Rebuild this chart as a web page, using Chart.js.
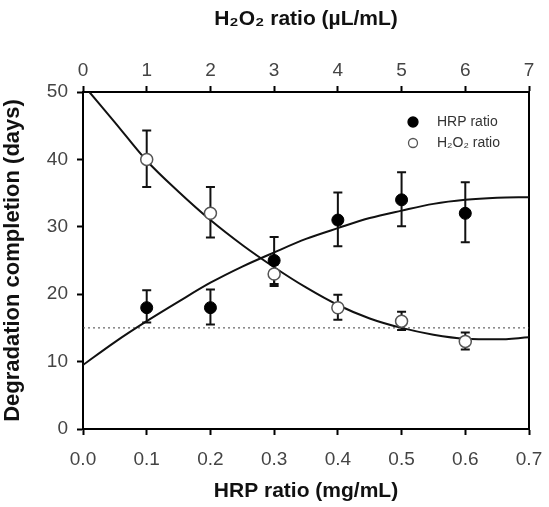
<!DOCTYPE html>
<html>
<head>
<meta charset="utf-8">
<script src="https://cdn.jsdelivr.net/npm/chart.js@4"></script>
<style>
  html, body { margin: 0; padding: 0; background: #fff; }
  #wrap { width: 549px; height: 507px; }
</style>
</head>
<body>
<div id="wrap"><canvas id="chart"></canvas></div>
<script>
// measured points (HRP on bottom axis, H2O2 on top axis)
const hrpX = [0.1, 0.2, 0.3, 0.4, 0.5, 0.6];
const hrpDays = [18, 18, 25, 31, 34, 32];
const hrpHigh = [20.6, 20.7, 28.5, 35.1, 38.1, 36.6];
const hrpLow = [15.8, 15.5, 21.5, 27.1, 30.1, 27.7];

const h2o2X = [1, 2, 3, 4, 5, 6];
const h2o2Days = [40, 32, 23, 18, 16, 13];
const h2o2High = [44.3, 35.9, 24.4, 19.9, 17.4, 14.3];
const h2o2Low = [35.9, 28.4, 21.2, 16.2, 14.7, 11.8];

// fitted curves
const hrpFitX = [0, 0.05, 0.1, 0.15, 0.2, 0.25, 0.3, 0.35, 0.4, 0.45, 0.5, 0.55, 0.6, 0.65, 0.7];
const hrpFitY = [9.5, 12.9, 16.0, 18.9, 21.7, 24.1, 26.2, 28.2, 29.8, 31.3, 32.4, 33.4, 34.0, 34.3, 34.4];
const h2o2FitX = [0.1, 0.5, 1, 1.5, 2, 2.5, 3, 3.5, 4, 4.5, 5, 5.5, 6, 6.5, 7];
const h2o2FitY = [50, 45.5, 39.8, 35.2, 31.0, 27.3, 24.0, 21.0, 18.4, 16.4, 15.0, 14.0, 13.4, 13.3, 13.6];

const refLineX = [0, 0.7];
const refLineY = [15, 15];

const FONT = '"Liberation Sans", Arial, sans-serif';

function pts(xs, ys) {
    return xs.map((x, i) => ({ x: x, y: ys[i] }));
}

// error bars drawn through the chart scales
const errorBars = {
    id: 'errorBars',
    beforeDatasetsDraw(chart) {
        const ctx = chart.ctx;
        const y = chart.scales.y;
        const sets = [
            { sx: chart.scales.x, xs: hrpX, hi: hrpHigh, lo: hrpLow },
            { sx: chart.scales.x2, xs: h2o2X, hi: h2o2High, lo: h2o2Low }
        ];
        ctx.save();
        ctx.strokeStyle = '#111';
        ctx.lineWidth = 2;
        sets.forEach(s => {
            s.xs.forEach((xv, i) => {
                const px = s.sx.getPixelForValue(xv);
                const top = y.getPixelForValue(s.hi[i]);
                const bot = y.getPixelForValue(s.lo[i]);
                ctx.beginPath();
                ctx.moveTo(px, top); ctx.lineTo(px, bot);
                ctx.moveTo(px - 4.5, top); ctx.lineTo(px + 4.5, top);
                ctx.moveTo(px - 4.5, bot); ctx.lineTo(px + 4.5, bot);
                ctx.stroke();
            });
        });
        ctx.restore();
    }
};

// small legend inside the plot, top right
const innerLegend = {
    id: 'innerLegend',
    afterDatasetsDraw(chart) {
        const ctx = chart.ctx;
        const items = [chart.data.datasets[0], chart.data.datasets[1]];
        ctx.save();
        ctx.font = '14px ' + FONT;
        ctx.textBaseline = 'middle';
        items.forEach((ds, i) => {
            const cx = 413, cy = 122 + i * 21;
            ctx.beginPath();
            ctx.arc(cx, cy, i === 0 ? 5 : 4.5, 0, Math.PI * 2);
            ctx.fillStyle = ds.pointBackgroundColor;
            ctx.fill();
            ctx.lineWidth = 1.3;
            ctx.strokeStyle = ds.pointBorderColor;
            ctx.stroke();
            ctx.fillStyle = '#333';
            ctx.fillText(ds.label, 437, cy);
        });
        ctx.restore();
    }
};

const tickFont = { family: FONT, size: 19 };
const titleFont = { family: FONT, size: 21, weight: 'bold' };

// keep the plot box fixed: no extra room for overhanging end labels
function fixX(h) {
    return s => { s.height = h; s.paddingLeft = 0; s.paddingRight = 0; };
}

new Chart(document.getElementById('chart'), {
    type: 'scatter',
    data: {
        datasets: [
            {
                label: 'HRP ratio',
                data: pts(hrpX, hrpDays),
                xAxisID: 'x',
                pointRadius: 6,
                pointBackgroundColor: '#000',
                pointBorderColor: '#000',
                pointBorderWidth: 1,
                showLine: false,
                order: 1
            },
            {
                label: 'H₂O₂ ratio',
                data: pts(h2o2X, h2o2Days),
                xAxisID: 'x2',
                pointRadius: 6,
                pointBackgroundColor: '#fff',
                pointBorderColor: '#555',
                pointBorderWidth: 1.5,
                showLine: false,
                order: 1
            },
            {
                label: 'HRP fit',
                data: pts(hrpFitX, hrpFitY),
                xAxisID: 'x',
                showLine: true,
                pointRadius: 0,
                borderColor: '#111',
                borderWidth: 2,
                cubicInterpolationMode: 'monotone',
                order: 2
            },
            {
                label: 'H2O2 fit',
                data: pts(h2o2FitX, h2o2FitY),
                xAxisID: 'x2',
                showLine: true,
                pointRadius: 0,
                borderColor: '#111',
                borderWidth: 2,
                cubicInterpolationMode: 'monotone',
                order: 2
            },
            {
                label: 'threshold',
                data: pts(refLineX, refLineY),
                xAxisID: 'x',
                showLine: true,
                pointRadius: 0,
                borderColor: '#444',
                borderWidth: 1,
                borderDash: [2, 3],
                order: 3
            }
        ]
    },
    options: {
        responsive: true,
        maintainAspectRatio: false,
        animation: false,
        layout: { padding: 0 },
        plugins: {
            legend: { display: false },
            tooltip: { enabled: false }
        },
        scales: {
            x: {
                type: 'linear',
                position: 'bottom',
                min: 0, max: 0.7,
                afterFit: fixX(78),
                ticks: {
                    stepSize: 0.1,
                    color: '#444',
                    font: tickFont,
                    padding: 13,
                    callback: v => v.toFixed(1)
                },
                grid: { drawOnChartArea: false, drawTicks: true, tickLength: 6, tickColor: '#000', tickWidth: 2 },
                border: { display: true, color: '#000', width: 2 },
                title: { display: true, text: 'HRP ratio (mg/mL)', font: titleFont, color: '#111', padding: { top: 0, bottom: 3 } }
            },
            x2: {
                type: 'linear',
                position: 'top',
                min: 0, max: 7,
                afterFit: fixX(92),
                ticks: { stepSize: 1, color: '#444', font: tickFont, padding: 4 },
                grid: { drawOnChartArea: false, drawTicks: true, tickLength: 6, tickColor: '#000', tickWidth: 2 },
                border: { display: true, color: '#000', width: 2 },
                title: { display: true, text: 'H₂O₂ ratio (µL/mL)', font: titleFont, color: '#111', padding: { top: 7, bottom: 0 } }
            },
            y: {
                type: 'linear',
                position: 'left',
                min: 0, max: 50,
                afterFit: s => { s.width = 83; s.paddingTop = 0; s.paddingBottom = 0; },
                ticks: { stepSize: 10, color: '#444', font: tickFont, padding: 9 },
                grid: { drawOnChartArea: false, drawTicks: true, tickLength: 6, tickColor: '#000', tickWidth: 2 },
                border: { display: true, color: '#000', width: 2 },
                title: { display: true, text: 'Degradation completion (days)', font: { family: FONT, size: 22, weight: 'bold' }, color: '#111', padding: { top: 0, bottom: 0 } }
            },
            yR: {
                type: 'linear',
                position: 'right',
                min: 0, max: 50,
                afterFit: s => { s.width = 20; },
                ticks: { display: false },
                grid: { drawOnChartArea: false, drawTicks: false },
                border: { display: true, color: '#000', width: 2 }
            }
        }
    },
    plugins: [errorBars, innerLegend]
});
</script>
</body>
</html>
